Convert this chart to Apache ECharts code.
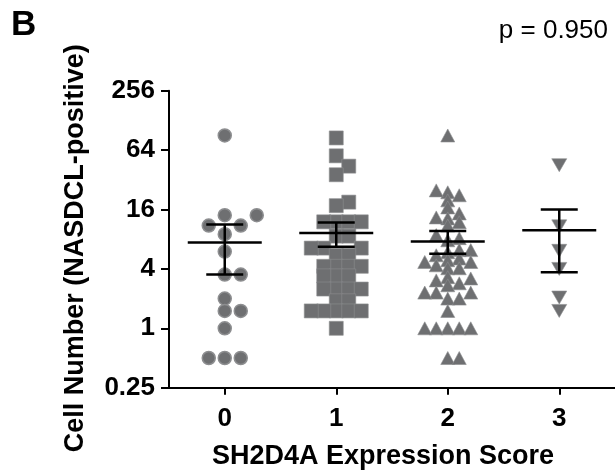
<!DOCTYPE html>
<html><head><meta charset="utf-8">
<script src="https://cdn.jsdelivr.net/npm/echarts@6/dist/echarts.min.js"></script>
<style>html,body{margin:0;padding:0;background:#fff}#c{width:615px;height:473px}</style>
</head><body><div id="c"></div>
<script>
// ---- data ----
const categories = [0, 1, 2, 3];
const group0 = [90, 14, 14, 11, 11, 9, 6, 3.5, 3.5, 2, 1.5, 1.5, 1, 0.5, 0.5, 0.5];
const group1 = [85, 56, 44, 36, 19, 17.5, 12, 12, 12, 12, 8.6, 8.6, 6.5, 6.5, 6.5, 5.5, 5.5,
  4.25, 4.25, 4.25, 4.25, 3.4, 3.4, 3.4, 2.5, 2.5, 2.5, 2.5, 1.9, 1.9, 1.5, 1.5, 1.5, 1.5, 1.5, 1];
const group2 = [90, 23.9, 25, 22.3, 19.8, 16.8, 14.6, 13, 13.3, 11, 11.9, 8.8, 8.2, 7.8, 6.2, 5.9, 6.2,
  5.5, 5.1, 4.9, 4.7, 4.7, 4.06, 4.06, 4.35, 3.3, 3.06, 3.2, 2.86, 2.73, 2.3, 2.3, 2.3, 2.0, 2.0,
  1.5, 1, 1, 1, 1, 1, 0.5, 0.5];
const group3 = [45, 10.8, 6.1, 4.0, 2.05, 1.5];
const meanValues = [7.4, 9.25, 7.6, 9.85];
const semLow = [3.5, 6.7, 5.7, 3.7];
const semHigh = [11.3, 11.8, 9.7, 16];
const yTicks = [0.25, 1, 4, 16, 64, 256];
const pText = 'p = 0.950';

const groups = [group0, group1, group2, group3];
const FONT = '"Liberation Sans", Arial, sans-serif';
const GREY = '#6e6f71';
const markers = [
  {symbol: 'circle', size: 13, rotate: 0, step: 16, h: 12},
  {symbol: 'rect', size: 14, rotate: 0, step: 12.5, h: 9},
  {symbol: 'triangle', size: [14, 13], rotate: 0, step: 11.5, h: 7},
  {symbol: 'triangle', size: [15, 13], rotate: 180, step: 15, h: 12}
];

const chart = echarts.init(document.getElementById('c'), null, {renderer: 'canvas'});

function scatterSeries(dataPerGroup) {
  return groups.map((g, gi) => ({
    type: 'scatter',
    symbol: markers[gi].symbol,
    symbolSize: markers[gi].size,
    symbolRotate: markers[gi].rotate,
    itemStyle: {color: GREY, borderColor: '#8d8e90', borderWidth: gi === 0 ? 1.5 : 0.6, opacity: 1},
    data: dataPerGroup[gi],
    z: 2,
    animation: false
  }));
}

const option = {
  animation: false,
  grid: {left: 169, right: 0, top: 90.7, bottom: 85.3, containLabel: false, outerBoundsMode: 'none'},
  xAxis: {
    type: 'value', min: -0.5, max: 3.5,
    splitLine: {show: false},
    axisLine: {show: true, onZero: false, lineStyle: {color: '#000', width: 2}},
    axisTick: {show: true, length: 7, lineStyle: {color: '#000', width: 2}, customValues: categories},
    axisLabel: {customValues: categories, margin: 18, color: '#000', fontSize: 26, fontWeight: 'bold', fontFamily: FONT,
      formatter: v => String(v)},
    name: 'SH2D4A Expression Score', nameLocation: 'middle', nameGap: 55,
    nameTextStyle: {color: '#000', fontSize: 27, fontWeight: 'bold', fontFamily: FONT, padding: [0, 18, 0, 0]}
  },
  yAxis: {
    type: 'log', logBase: 4, min: yTicks[0], max: yTicks[yTicks.length - 1],
    splitLine: {show: false},
    axisLine: {show: true, onZero: false, lineStyle: {color: '#000', width: 2}},
    axisTick: {show: true, length: 8, lineStyle: {color: '#000', width: 2}},
    axisLabel: {margin: 14, color: '#000', fontSize: 26, fontWeight: 'bold', fontFamily: FONT,
      formatter: v => String(+(+v).toPrecision(6))},
    name: 'Cell Number (NASDCL-positive)', nameLocation: 'middle', nameGap: 80,
    nameTextStyle: {color: '#000', fontSize: 27, fontWeight: 'bold', fontFamily: FONT, padding: [0, 18, 0, 0]}
  },
  graphic: [
    {type: 'text', left: 11, top: 8, style: {text: 'B', fontSize: 35, fontWeight: 'bold', fontFamily: FONT, fill: '#000'}},
    {type: 'text', right: 7, top: 18, style: {text: pText, fontSize: 26, fontFamily: FONT, fill: '#000'}}
  ],
  series: scatterSeries(groups.map((g, gi) => g.map(v => [categories[gi], v]))).concat([{
    type: 'custom',
    z: 10,
    encode: {x: 0, y: [1, 2, 3]},
    renderItem: (params, api) => {
      const x = api.value(0);
      const c = api.coord([x, api.value(1)]);
      const lo = api.coord([x, api.value(2)]);
      const hi = api.coord([x, api.value(3)]);
      const st = {stroke: '#000', lineWidth: 2.5};
      const mw = 37, cw = 18.5;
      return {type: 'group', children: [
        {type: 'line', shape: {x1: c[0] - mw, y1: c[1], x2: c[0] + mw, y2: c[1]}, style: st},
        {type: 'line', shape: {x1: c[0], y1: hi[1], x2: c[0], y2: lo[1]}, style: st},
        {type: 'line', shape: {x1: c[0] - cw, y1: hi[1], x2: c[0] + cw, y2: hi[1]}, style: st},
        {type: 'line', shape: {x1: c[0] - cw, y1: lo[1], x2: c[0] + cw, y2: lo[1]}, style: st}
      ]};
    },
    data: meanValues.map((m, i) => [categories[i], m, semLow[i], semHigh[i]])
  }])
};
chart.setOption(option);

// beeswarm layout of points computed from the axis scales
function swarm(values, ci, step, h) {
  const base = chart.convertToPixel({gridIndex: 0}, [ci, 1])[0];
  const unit = chart.convertToPixel({gridIndex: 0}, [ci + 1, 1])[0] - base;
  const placed = [];
  const res = new Array(values.length);
  const order = values.map((v, i) => i).sort((a, b) => values[a] - values[b]);
  for (const i of order) {
    const py = chart.convertToPixel({gridIndex: 0}, [ci, values[i]])[1];
    let off = 0;
    for (let t = 0; t < 60; t++) {
      const k = t === 0 ? 0 : (t % 2 ? (t + 1) / 2 : -(t / 2));
      off = k * step / 2;
      if (!placed.some(p => Math.abs(p[0] - off) < step * 0.95 && Math.abs(p[1] - py) < h)) break;
    }
    placed.push([off, py]);
    res[i] = [ci + off / unit, values[i]];
  }
  return res;
}
const swarmed = groups.map((g, gi) => swarm(g, categories[gi], markers[gi].step, markers[gi].h));
chart.setOption({series: scatterSeries(swarmed)});
</script></body></html>
